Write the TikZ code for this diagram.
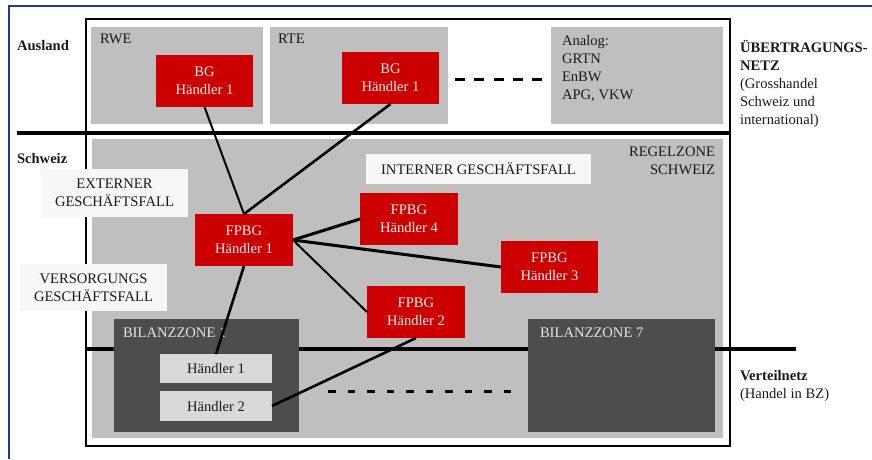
\documentclass[tikz,border=0pt]{standalone}
\usepackage{fontspec}
\setmainfont{Liberation Serif}
\definecolor{zgray}{HTML}{BFBFBF}
\definecolor{dgray}{HTML}{4D4D4D}
\definecolor{bred}{HTML}{CC0000}
\definecolor{lgray}{HTML}{D9D9D9}
\definecolor{wlab}{HTML}{F7F7F7}
\definecolor{bframe}{HTML}{1E3A9A}
\definecolor{ink}{HTML}{1A1A1A}
\newcommand\dfont{\fontsize{14.6}{18}\selectfont}
\begin{document}
\begin{tikzpicture}[x=1pt,y=-1pt,
  every node/.style={inner sep=0pt, outer sep=0pt, font=\dfont},
  outerbox/.style={draw=black, line width=2.2pt, fill=white},
  zonebox/.style={fill=zgray},
  bzbox/.style={fill=dgray},
  tbox/.style={fill=lgray, text=ink},
  redbox/.style={fill=bred, text=white!95!black, align=center, minimum width=97pt, minimum height=52pt},
  labbox/.style={fill=wlab, text=ink, align=center},
  conn/.style={line width=2pt, draw=black},
  thickconn/.style={line width=3pt, draw=black},
  divider/.style={line width=4pt, draw=black},
  dashline/.style={line width=3pt, draw=black},
  txt/.style={text=ink, align=left},
  sidehead/.style={text=ink, font=\dfont\bfseries, anchor=west},
  bztext/.style={text=white!90!black, anchor=west}
]
\useasboundingbox (0,0) rectangle (872,459);
% blue frame
\coordinate (fA) at (9,459);
\coordinate (fB) at (9,6);
\coordinate (fC) at (872,6);
\draw[bframe, line width=2pt] (fA) -- (fB) -- (fC);

% outer box and zones
\node[outerbox, minimum width=644pt, minimum height=427pt] (outer) at (408,232.5) {};
\node[zonebox, minimum width=172pt, minimum height=97pt] (rwe) at (177,75.5) {};
\node[zonebox, minimum width=178pt, minimum height=97pt] (rte) at (359,75.5) {};
\node[zonebox, minimum width=172pt, minimum height=97pt] (analog) at (637,75.5) {};
\node[zonebox, minimum width=631pt, minimum height=299pt] (regel) at (407.5,288.5) {};

% dividers
\coordinate (tl) at (17,133);
\coordinate (tr) at (730,133);
\draw[divider] (tl) -- (tr);
\coordinate (bl) at (86,349);
\coordinate (br) at (796,349);
\draw[divider] (bl) -- (br);

% Bilanzzonen
\node[bzbox, minimum width=185pt, minimum height=113pt] (bz1) at (206.5,375.5) {};
\node[bzbox, minimum width=187pt, minimum height=113pt] (bz7) at (621.5,375.5) {};
\node[tbox, minimum width=112pt, minimum height=29pt] (h1) at (216,368.5) {Händler 1};
\node[tbox, minimum width=112pt, minimum height=30pt] (h2) at (216,406) {Händler 2};
\node[bztext] (bz1t) at (123,333) {BILANZZONE 1};
\node[bztext] (bz7t) at (540,333) {BILANZZONE 7};

% dashed lines
\coordinate (d1a) at (455,79);
\coordinate (d1b) at (543,79);
\draw[dashline, dash pattern=on 10pt off 9.3pt] (d1a) -- (d1b);
\coordinate (d2a) at (328,391);
\coordinate (d2b) at (515,391);
\draw[dashline, dash pattern=on 7.5pt off 12pt] (d2a) -- (d2b);

% label boxes
\node[labbox, minimum width=147pt, minimum height=48pt] (ext) at (114.5,193) {EXTERNER\\GESCHÄFTSFALL};
\node[labbox, minimum width=147pt, minimum height=47pt] (vers) at (93.5,287.5) {VERSORGUNGS\\GESCHÄFTSFALL};
\node[labbox, minimum width=225pt, minimum height=30pt] (int) at (478.5,169) {INTERNER GESCHÄFTSFALL};

% red boxes
\node[redbox] (bgrwe) at (204.5,81) {BG\\Händler 1};
\node[redbox] (bgrte) at (390.5,78) {BG\\Händler 1};
\node[redbox, minimum width=98pt] (fp1) at (244,240) {FPBG\\Händler 1};
\node[redbox, minimum width=98pt] (fp4) at (409,219) {FPBG\\Händler 4};
\node[redbox] (fp3) at (549.5,267) {FPBG\\Händler 3};
\node[redbox, minimum width=98pt] (fp2) at (416,312) {FPBG\\Händler 2};

% connectors
\draw[conn] (bgrwe.south) -- (fp1.north);
\draw[conn, line width=2.6pt] (bgrte.south) -- (fp1.north);
\draw[thickconn] (fp1.east) -- (fp4.west);
\draw[thickconn] (fp1.east) -- (fp3.west);
\draw[conn] (fp1.east) -- (fp2.west);
\draw[conn, line width=2.6pt] (fp1.south) -- (h1.north);
\draw[conn, line width=2.6pt] (h2.east) -- (fp2.south);

% texts
\node[sidehead] (ausland) at (17,46) {Ausland};
\node[sidehead] (schweiz) at (17,158) {Schweiz};
\node[txt, anchor=west] (rwet) at (100,39) {RWE};
\node[txt, anchor=west] (rtet) at (278,39) {RTE};
\node[txt, anchor=west] (analogt) at (562,68.5) {Analog:\\GRTN\\EnBW\\APG, VKW};
\node[txt, anchor=east, align=right] (regelt) at (715,161) {REGELZONE\\SCHWEIZ};
\node[txt, anchor=west] (uebt) at (740,83.5) {\textbf{ÜBERTRAGUNGS-}\\\textbf{NETZ}\\(Grosshandel\\Schweiz und\\international)};
\node[txt, anchor=west] (vnt) at (740,385.5) {\textbf{Verteilnetz}\\(Handel in BZ)};
\end{tikzpicture}
\end{document}
